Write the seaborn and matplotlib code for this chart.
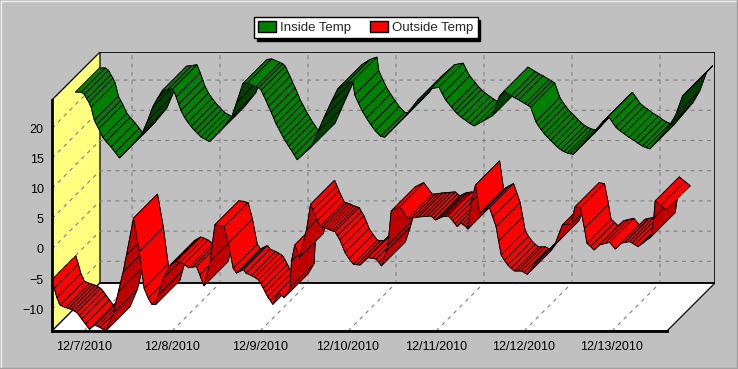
import matplotlib
matplotlib.use('Agg')
import matplotlib.pyplot as plt
from matplotlib.patches import Patch
import pandas as pd
import seaborn as sns

# hours since 12/7/2010 00:00, temperatures in deg C
inside_hours = [-8.9, -7.3, -6.4, -5.8, -5.2, -4.6, -3.7, -3.1, -2.5, -1.4, -0.5, 0.85, 2.0, 3.1,
                6.3, 9.5, 10.85, 12.2, 13.6, 14.9, 16.3,
                17.7, 18.6, 19.3, 19.9, 20.85, 21.8, 22.7, 23.6, 24.5, 25.4, 26.5, 27.7,
                30.85, 33.8, 35.1, 36.8, 38.1,
                40.4, 41.1, 41.8, 42.4, 43.1, 43.8, 44.5, 45.2, 45.85, 46.5, 47.2, 47.9, 48.6, 49.3, 50.1, 50.8, 51.6,
                55.4, 57.2, 59.0, 60.85, 62.7, 64.9,
                66.8, 67.3, 68.3, 69.4, 70.5, 71.7, 72.9, 74.4, 75.5,
                81.2, 84.4, 88.0,
                90.3, 91.2, 92.1, 93.7, 94.5, 95.3, 96.4, 97.6, 98.7, 99.9,
                102.6, 104.9, 106.7,
                108.0, 110.0, 111.0, 112.1, 113.7, 114.5, 115.3, 116.7, 117.4, 118.2, 119.0, 119.85, 120.8, 121.7,
                122.6, 123.5, 124.4, 125.3, 126.1, 126.9,
                129.9, 132.6, 134.85,
                136.5, 137.5, 138.5, 139.6, 140.8, 142.1, 143.5, 144.6, 145.8, 146.8, 147.8,
                153.0, 154.85, 156.7, 158.4]
inside_temp = [22.0, 22.0, 21.6, 20.9, 20.3, 19.5, 17.3, 16.6, 15.9, 14.5, 13.8, 12.9, 12.0, 11.1,
               13.05, 15.4, 17.3, 19.5, 21.05, 22.3, 22.4,
               22.55, 21.2, 20.0, 18.96, 17.85, 17.0, 16.3, 15.65, 15.1, 14.55, 14.2, 13.8,
               15.76, 17.96, 20.3, 23.4, 23.5,
               22.9, 22.7, 22.3, 21.5, 20.6, 19.6, 18.7, 17.7, 16.75, 16.0, 15.2, 14.4, 13.7, 13.0, 12.3, 11.6, 10.8,
               12.9, 15.4, 17.85, 20.3, 22.55, 23.4,
               23.8, 21.55, 20.2, 18.8, 17.7, 16.6, 15.6, 14.65, 14.55,
               18.1, 20.6, 22.55,
               22.8, 21.7, 20.7, 19.5, 18.9, 18.4, 17.8, 17.3, 16.8, 16.4,
               17.3, 18.1, 21.2,
               22.15, 21.4, 21.05, 20.7, 20.1, 19.8, 19.5, 17.1, 16.4, 15.75, 15.1, 14.55, 14.0, 13.4,
               12.9, 12.45, 12.15, 11.9, 11.8, 11.7,
               13.7, 15.4, 17.0,
               17.96, 17.1, 16.2, 15.6, 15.1, 14.5, 14.0, 13.5, 13.05, 12.8, 12.6,
               16.3, 18.2, 21.3, 22.4]

outside_hours = [-8.8, -8.1, -7.4, -6.5, -5.0, -4.2, -3.4, -2.7, -2.0, -1.3, -0.6, 0.4, 1.5, 2.2, 3.0, 3.7, 4.4, 5.2, 6.0,
                 8.0, 9.4, 10.7, 11.6, 13.5, 15.1, 16.4, 17.55, 18.5, 19.6, 20.3, 21.6, 23.5,
                 24.4, 25.3, 26.2, 27.3, 28.5, 29.6, 30.7, 31.6, 32.7, 34.4, 35.7,
                 38.2, 39.4, 40.7, 41.6, 42.5, 43.5, 44.2, 45.7, 46.6, 47.6, 48.2, 48.9, 49.5, 50.1, 50.8, 51.5,
                 53.0, 54.6, 56.2, 56.6, 57.5, 58.7, 60.7, 61.8,
                 62.4, 63.0, 63.7, 64.4, 65.0, 65.7, 66.4, 67.1, 67.8, 68.5, 69.1, 69.8, 70.5, 71.2, 72.3, 73.5, 74.4,
                 75.3, 76.3, 77.45, 78.6, 79.7, 80.4, 81.1, 82.45, 82.9, 83.8, 86.1, 88.4, 89.3,
                 90.3, 91.3, 92.4, 93.5, 94.7, 95.3, 95.9, 96.9, 97.9, 98.6, 99.3, 100.0, 100.6, 101.2, 101.8, 102.7,
                 103.2, 103.8, 104.3, 104.7, 105.6, 106.8, 107.9, 109.2, 110.6, 111.5, 112.4, 113.1, 113.8, 114.7,
                 115.6, 116.5, 117.4, 118.3, 119.3, 120.1, 120.9, 122.9, 124.0,
                 125.2, 126.8, 128.4, 130.5, 131.5, 132.9, 133.9, 135.4, 136.5, 137.2, 138.2, 139.1, 140.6, 142.0,
                 143.4, 144.9, 146.5, 147.6, 148.8, 149.5, 150.3, 151.1, 151.8, 152.5, 153.2, 154.0, 154.7,
                 155.4, 155.8, 157.3, 158.8]
outside_temp = [-5.1, -6.5, -8.05, -9.3, -9.7, -9.85, -10.0, -10.25, -10.5, -11.0, -11.6, -12.4, -13.3, -12.9, -12.6, -12.8, -13.0, -13.3, -13.5,
                -10.65, -7.06, -3.75, -1.0, 5.1, -0.44, -6.5, -8.16, -9.16, -9.16, -7.6, -4.85, -2.65,
                -2.3, -2.0, -2.2, -2.5, -3.1, -3.0, -2.9, -4.3, -6.1, -2.1, 4.0,
                3.7, 0.94, -3.2, -4.0, -3.7, -3.4, -4.0, -4.4, -4.7, -5.1, -5.7, -6.5, -7.2, -7.9, -8.5, -9.16,
                -7.2, -8.05, -6.4, -2.0, 0.67, -1.43, 3.15, 7.4,
                6.5, 5.63, 4.7, 3.8, 3.65, 3.54, 3.35, 3.15, 3.0, 2.87, 2.2, 1.5, 0.5, -0.6, -1.6, -2.53, -2.6,
                -2.65, -2.0, -1.43, -1.55, -1.65, -2.2, -2.8, -0.33, 0.67, 6.3, 7.0, 5.1, 5.1,
                5.2, 5.3, 5.36, 5.4, 5.47, 5.1, 4.8, 5.1, 5.36, 5.4, 5.47, 5.05, 4.64, 4.15, 3.7, 4.4,
                4.1, 3.87, 3.6, 3.3, 7.84, 10.6, 5.9, 6.4, 6.85, 5.3, 3.7, 1.3, -1.0, -1.9,
                -2.65, -3.2, -3.64, -3.64, -3.64, -3.9, -4.2, -2.53, -1.8,
                -1.1, -0.2, 0.67, 3.98, 4.1, 4.1, 6.96, 6.85, 3.4, 0.94, 0.4, -0.16, 0.67, 0.9,
                1.1, 0.0, 0.94, 1.1, 1.22, 1.0, 0.7, 0.4, 0.7, 1.0, 1.4, 1.7, 2.05,
                5.1, 7.95, 7.2, 6.46]

day_ticks = [0, 24, 48, 72, 96, 120, 144]
day_labels = ['12/7/2010', '12/8/2010', '12/9/2010', '12/10/2010', '12/11/2010', '12/12/2010', '12/13/2010']
temp_ticks = [-10, -5, 0, 5, 10, 15, 20]

# depth of the 3D box, in axis units
DEPTH_X = 13.09
DEPTH_Y = 7.95
X_MIN, X_FRONT_MAX, X_MAX = -8.73, 159.0, 172.1
Y_MIN, Y_FRONT_MAX, Y_MAX = -13.58, 24.67, 32.6
GRID = dict(color='#808080', lw=0.8, ls=(0, (3.5, 4)), zorder=0.3)

sns.set_style('white')
plt.rcParams['font.family'] = ['Liberation Sans', 'DejaVu Sans']

fig = plt.figure(figsize=(7.38, 3.69), dpi=100, facecolor='#C0C0C0')
ax = fig.add_axes([52 / 738, 38 / 369, 663 / 738, 279 / 369])
ax.patch.set_alpha(0)
ax.set_xlim(X_MIN, X_MAX)
ax.set_ylim(Y_MIN, Y_MAX)

# window edge
fig.add_artist(plt.Line2D([0.001, 0.001, 1], [0, 0.998, 0.998], transform=fig.transFigure, color='#EEEEEE', lw=1))
fig.add_artist(plt.Line2D([0, 0.999, 0.999], [0.003, 0.003, 1], transform=fig.transFigure, color='#A0A0A0', lw=1))

# walls and floor
ax.fill([X_MIN, X_MIN + DEPTH_X, X_MIN + DEPTH_X, X_MIN],
        [Y_MIN, Y_MIN + DEPTH_Y, Y_MAX, Y_FRONT_MAX], fc='#FFFF80', ec='k', lw=0.9, zorder=0.1)
ax.fill([X_MIN, X_MIN + DEPTH_X, X_MAX, X_FRONT_MAX],
        [Y_MIN, Y_MIN + DEPTH_Y, Y_MIN + DEPTH_Y, Y_MIN], fc='white', ec='k', lw=0.9, zorder=0.2)
ax.plot([X_MIN + DEPTH_X, X_MAX, X_MAX, X_MIN + DEPTH_X], [Y_MAX, Y_MAX, Y_MIN + DEPTH_Y, Y_MIN + DEPTH_Y],
        color='k', lw=1.2, zorder=0.4)

# gridlines on the walls
for t in temp_ticks:
    ax.plot([X_MIN, X_MIN + DEPTH_X, X_MAX], [t, t + DEPTH_Y, t + DEPTH_Y], **GRID)
for d in day_ticks:
    ax.plot([d, d + DEPTH_X, d + DEPTH_X], [Y_MIN, Y_MIN + DEPTH_Y, Y_MAX], **GRID)


def draw_ribbon(hours, temps, near, far, face, shade):
    df = pd.DataFrame({'hours': hours, 'temp': temps})
    # edges of the ribbon
    for z in (near, far):
        edge = df.assign(hours=df.hours + z * DEPTH_X, temp=df.temp + z * DEPTH_Y)
        sns.lineplot(data=edge, x='hours', y='temp', sort=False, estimator=None, color='k', lw=0.7,
                     ax=ax, zorder=0.9, legend=False)
    # one face per segment, darker when we look at its underside
    dx = (far - near) * DEPTH_X
    dy = (far - near) * DEPTH_Y
    for i in range(len(df) - 1):
        x0, x1 = df.hours[i], df.hours[i + 1]
        y0, y1 = df.temp[i], df.temp[i + 1]
        under = (y1 - y0) / DEPTH_Y > (x1 - x0) / DEPTH_X
        xs = [x + near * DEPTH_X for x in (x0, x1)]
        ys = [y + near * DEPTH_Y for y in (y0, y1)]
        ax.fill([xs[0], xs[1], xs[1] + dx, xs[0] + dx], [ys[0], ys[1], ys[1] + dy, ys[0] + dy],
                fc=shade if under else face, ec='k', lw=0.6, zorder=1)


draw_ribbon(inside_hours, inside_temp, 0.5, 1.0, '#008000', '#004000')
draw_ribbon(outside_hours, outside_temp, 0.0, 0.5, '#FF0000', '#C00000')

ax.set_xlabel('')
ax.set_ylabel('')
ax.set_xticks(day_ticks, day_labels)
ax.set_xticks(list(range(-6, 159, 6)), minor=True)
ax.set_yticks(temp_ticks)
ax.set_yticks(list(range(-13, 25)), minor=True)
ax.tick_params(axis='x', which='major', length=3.5, width=1, color='k', labelsize=9, pad=3.5, labelcolor='k')
ax.tick_params(axis='y', which='major', length=3.5, width=1, color='k', labelsize=9, pad=2.5, labelcolor='k')
ax.tick_params(axis='both', which='minor', length=2, width=1, color='k')
for side in ('top', 'right'):
    ax.spines[side].set_visible(False)
for side in ('left', 'bottom'):
    ax.spines[side].set_visible(True)
    ax.spines[side].set_color('k')
    ax.spines[side].set_linewidth(2)
ax.spines['left'].set_bounds(Y_MIN, Y_FRONT_MAX)
ax.spines['bottom'].set_bounds(X_MIN, X_FRONT_MAX)

handles = [Patch(fc='#008000', ec='k', lw=1, label='Inside Temp'),
           Patch(fc='#FF0000', ec='k', lw=1, label='Outside Temp')]
fig.legend(handles=handles, ncol=2, loc='center', bbox_to_anchor=(366 / 738, 1 - 27.5 / 369), frameon=True,
           fancybox=False, framealpha=1, edgecolor='k', facecolor='white', fontsize=9.5,
           shadow={'color': 'k', 'alpha': 1, 'ox': 2, 'oy': -2}, borderpad=0.3, borderaxespad=0, handlelength=1.37,
           handleheight=0.9, handletextpad=0.3, columnspacing=1.44, labelspacing=0.2)

fig.savefig('out.png', dpi=100, facecolor=fig.get_facecolor())
